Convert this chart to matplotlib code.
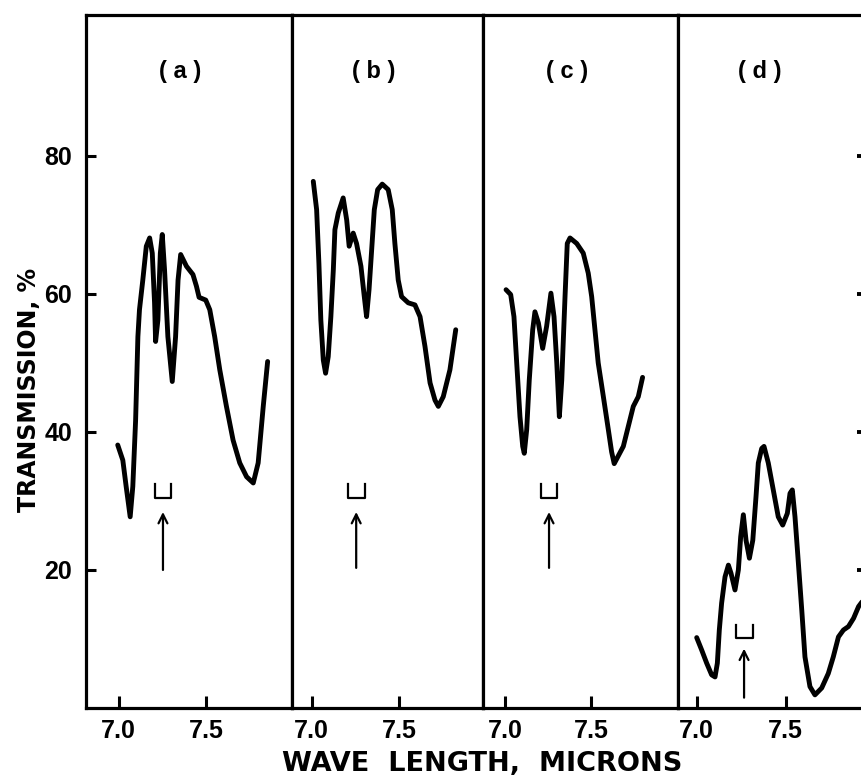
import matplotlib
matplotlib.use("Agg")
import matplotlib.pyplot as plt

# ---------------- data ----------------
panel_labels = ["( a )", "( b )", "( c )", "( d )"]
xtick_values = [7.0, 7.5]
xtick_labels = ["7.0", "7.5"]
ytick_values = [20, 40, 60, 80]
ytick_labels = ["20", "40", "60", "80"]

wl_a = [6.994, 7.023, 7.042, 7.065, 7.080, 7.096, 7.109, 7.118, 7.137, 7.157, 7.176,
        7.191, 7.204, 7.210, 7.223, 7.237, 7.248, 7.261, 7.280, 7.305, 7.324, 7.338,
        7.353, 7.386, 7.423, 7.443, 7.458, 7.496, 7.519, 7.547, 7.576, 7.614, 7.652,
        7.690, 7.729, 7.767, 7.795, 7.824, 7.849]
tr_a = [38.1, 35.9, 32.1, 27.7, 32.1, 41.7, 53.8, 57.7, 62.0, 66.9, 68.1,
        65.9, 58.7, 53.1, 56.2, 65.9, 68.6, 63.5, 53.8, 47.3, 53.8, 62.0,
        65.7, 64.0, 62.8, 61.1, 59.5, 59.1, 57.7, 53.8, 49.0, 43.7, 38.8,
        35.5, 33.5, 32.6, 35.5, 43.7, 50.2]

wl_b = [7.010, 7.029, 7.042, 7.053, 7.067, 7.080, 7.095, 7.110, 7.124, 7.133, 7.152,
        7.180, 7.200, 7.214, 7.237, 7.256, 7.281, 7.300, 7.313, 7.327, 7.342, 7.357,
        7.376, 7.402, 7.436, 7.459, 7.474, 7.493, 7.512, 7.550, 7.588, 7.617, 7.645,
        7.674, 7.702, 7.721, 7.749, 7.787, 7.820]
tr_b = [76.3, 72.2, 64.4, 56.2, 50.4, 48.5, 50.9, 56.7, 63.5, 69.3, 71.7,
        73.9, 70.7, 66.9, 68.8, 67.3, 64.0, 59.6, 56.7, 60.6, 66.4, 72.2,
        75.1, 75.9, 75.1, 72.2, 67.3, 62.0, 59.6, 58.7, 58.4, 56.7, 52.4,
        47.1, 44.6, 43.7, 45.1, 49.0, 54.8]

wl_c = [7.006, 7.033, 7.052, 7.068, 7.087, 7.103, 7.112, 7.126, 7.141, 7.161, 7.174,
        7.194, 7.219, 7.242, 7.267, 7.285, 7.301, 7.316, 7.330, 7.349, 7.362, 7.378,
        7.417, 7.455, 7.484, 7.504, 7.523, 7.542, 7.572, 7.601, 7.620, 7.635, 7.688,
        7.746, 7.775, 7.800]
tr_c = [60.6, 59.9, 56.7, 50.0, 42.2, 37.9, 36.9, 40.3, 47.5, 54.8, 57.4,
        55.8, 52.1, 55.3, 60.1, 56.7, 50.0, 42.2, 47.5, 59.6, 67.3, 68.1,
        67.3, 65.9, 63.0, 59.6, 54.8, 50.0, 45.1, 40.3, 37.1, 35.4, 37.9,
        43.7, 45.1, 47.9]

wl_d = [7.000, 7.028, 7.056, 7.084, 7.103, 7.116, 7.127, 7.140, 7.159, 7.178, 7.193,
        7.215, 7.234, 7.247, 7.262, 7.277, 7.296, 7.315, 7.333, 7.346, 7.365, 7.378,
        7.402, 7.430, 7.458, 7.483, 7.509, 7.524, 7.537, 7.552, 7.571, 7.590, 7.608,
        7.636, 7.664, 7.702, 7.739, 7.767, 7.796, 7.824, 7.852, 7.881, 7.909, 7.935]
tr_d = [10.2, 8.4, 6.5, 4.8, 4.5, 6.5, 11.3, 15.2, 19.0, 20.7, 19.5,
        17.1, 20.0, 24.8, 28.0, 24.3, 21.7, 24.3, 30.6, 35.5, 37.6, 37.9,
        35.5, 31.6, 27.7, 26.5, 28.2, 31.1, 31.6, 27.7, 21.0, 14.2, 7.4,
        3.1, 1.9, 2.9, 5.0, 7.4, 10.3, 11.3, 11.8, 13.0, 14.7, 15.6]

series = [(wl_a, tr_a), (wl_b, tr_b), (wl_c, tr_c), (wl_d, tr_d)]

# marker (bracket + arrow) positions per panel: (x, bracket_bottom, bracket_top, arrow_tail, arrow_head)
markers = [(7.252, 30.4, 32.4, 20.0, 28.4),
           (7.254, 30.4, 32.4, 20.3, 28.4),
           (7.256, 30.4, 32.4, 20.3, 28.4),
           (7.266, 10.1, 12.0, 1.5, 8.6)]
bracket_half = 0.048

# ---------------- layout ----------------
W, H = 862, 782
fig = plt.figure(figsize=(W / 100, H / 100), dpi=100)

edges = [86, 292, 483, 678, 868]
xlims = [(6.813, 7.988), (6.889, 7.975), (6.872, 8.006), (6.895, 7.962)]
top_px, bot_px = 15, 708

font = "Liberation Sans"
axes = []
for i in range(4):
    l = edges[i] / W
    w = (edges[i + 1] - edges[i]) / W
    b = (H - bot_px) / H
    h = (bot_px - top_px) / H
    ax = fig.add_axes([l, b, w, h])
    axes.append(ax)
    x, y = series[i]
    ax.plot(x, y, color="black", lw=3.5, solid_joinstyle="round", solid_capstyle="round")
    ax.set_xlim(*xlims[i])
    ax.set_ylim(0, 100.4)
    for s in ax.spines.values():
        s.set_linewidth(2.3)
        s.set_color("black")
    ax.set_xticks(xtick_values)
    ax.set_xticklabels(xtick_labels, fontfamily=font, fontweight="bold", fontsize=18)
    ax.tick_params(axis="x", direction="in", length=9, width=2.2, pad=8)
    ax.set_yticks(ytick_values)
    if i == 0:
        ax.set_yticklabels(ytick_labels, fontfamily=font, fontweight="bold", fontsize=18)
        ax.tick_params(axis="y", direction="in", length=7, width=2.2, pad=10,
                       left=True, right=False)
    elif i == 3:
        ax.tick_params(axis="y", direction="in", length=8, width=2.8,
                       left=False, right=True, labelleft=False, labelright=False)
    else:
        ax.tick_params(axis="y", left=False, right=False, labelleft=False)
    ax.text(0.455 if i == 0 else 0.43, 0.918, panel_labels[i], transform=ax.transAxes,
            ha="center", va="center", fontfamily=font, fontweight="bold", fontsize=17)

    mx, bb, bt, tail, head = markers[i]
    ax.plot([mx - bracket_half, mx - bracket_half, mx + bracket_half, mx + bracket_half],
            [bt, bb, bb, bt], color="black", lw=1.6)
    ax.annotate("", xy=(mx, head), xytext=(mx, tail),
                arrowprops=dict(arrowstyle="->", color="black", lw=1.6,
                                mutation_scale=16, shrinkA=0, shrinkB=0))

fig.text(482 / W, 1 - 764 / H, "WAVE  LENGTH,  MICRONS", ha="center", va="center",
         fontfamily="DejaVu Sans", fontweight="bold", fontsize=19.5)
fig.text(29 / W, 1 - 390 / H, "TRANSMISSION, %", ha="center", va="center",
         rotation=90, fontfamily="DejaVu Sans", fontweight="bold", fontsize=17)

fig.savefig("out.png", dpi=100)
